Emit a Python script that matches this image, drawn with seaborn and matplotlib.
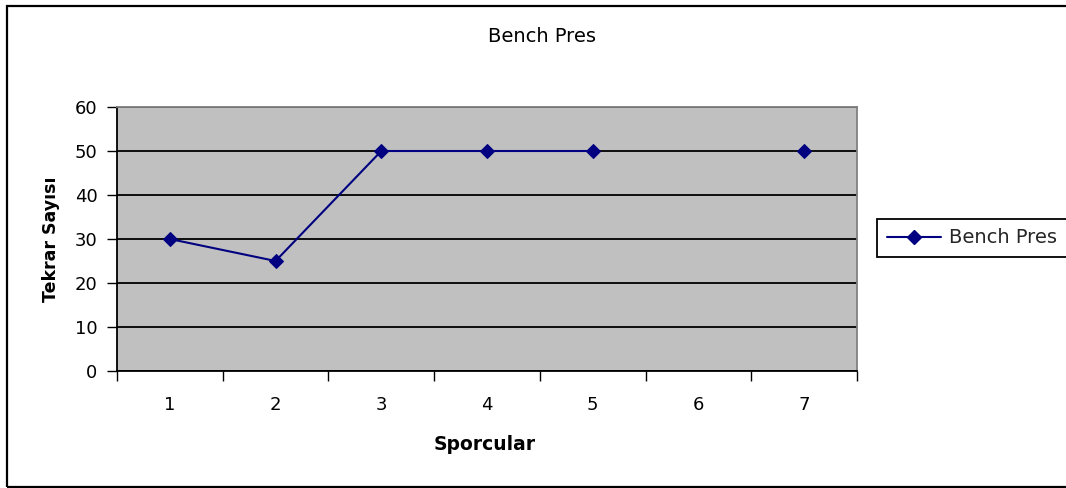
import numpy as np
import pandas as pd
import matplotlib
matplotlib.use("Agg")
import matplotlib.pyplot as plt
from matplotlib.patches import Rectangle
from matplotlib.lines import Line2D
import seaborn as sns

# Data
athletes = ["1", "2", "3", "4", "5", "6", "7"]
reps = [30, 25, 50, 50, 50, np.nan, 50]
series_name = "Bench Pres"
y_ticks = [0, 10, 20, 30, 40, 50, 60]

sns.set_theme(style="white")
plt.rcParams["font.family"] = ["DejaVu Sans"]

FS = 13
W, H = 1066, 488
fig = plt.figure(figsize=(W / 100, H / 100), dpi=100)
fig.patch.set_facecolor("white")

ax = fig.add_axes([117 / W, 1 - 371 / H, (857 - 117) / W, (371 - 107) / H])
ax.set_facecolor("#C0C0C0")

# Build frame; a missing value splits the line into separate runs
df = pd.DataFrame({"pos": np.arange(len(athletes)), "reps": reps})
df["run"] = df["reps"].isna().cumsum()
df = df.dropna()

navy = "#000080"
sns.lineplot(data=df, x="pos", y="reps", units="run", estimator=None,
             color=navy, lw=1.5, marker="D", markersize=7,
             markeredgecolor=navy, markerfacecolor=navy, ax=ax, legend=False)

# Axes limits and ticks
ax.set_xlim(-0.5, len(athletes) - 0.5)
ax.set_ylim(0, 60)
ax.set_yticks(y_ticks)
ax.set_yticklabels([str(v) for v in y_ticks], fontsize=FS, color="black")
ax.set_xticks(np.arange(-0.5, len(athletes), 1.0))
ax.set_xticklabels([])
ax.set_xticks(np.arange(len(athletes)), minor=True)
ax.set_xticklabels(athletes, minor=True, fontsize=FS, color="black")
ax.tick_params(axis="x", which="major", direction="out", length=7, width=1,
               color="black", bottom=True)
ax.tick_params(axis="x", which="minor", length=0, pad=18, bottom=True)
ax.tick_params(axis="y", direction="out", length=7, width=1, color="black",
               left=True, pad=7)

# Horizontal gridlines
ax.yaxis.grid(True, color="black", lw=1.3)
ax.xaxis.grid(False)
ax.set_axisbelow(True)

for side in ["top", "right"]:
    ax.spines[side].set_visible(True)
    ax.spines[side].set_color("#808080")
    ax.spines[side].set_linewidth(1.3)
for side in ["left", "bottom"]:
    ax.spines[side].set_visible(True)
    ax.spines[side].set_color("black")
    ax.spines[side].set_linewidth(1.3)

ax.set_xlabel("")
ax.set_ylabel("")
fig.text(485 / W, 1 - 445 / H, "Sporcular", ha="center", va="center",
         fontsize=13.5, fontweight="bold", color="black")
fig.text(51 / W, 1 - 239 / H, "Tekrar Sayısı", ha="center", va="center",
         rotation=90, fontsize=12.5, fontweight="bold", color="black")

fig.text(542 / W, 1 - 37 / H, series_name, ha="center", va="center",
         fontsize=14, color="black")

# Legend
handle = Line2D([], [], color=navy, lw=1.5, marker="D", markersize=7,
                markeredgecolor=navy, markerfacecolor=navy)
leg = fig.legend([handle], [series_name], loc="center left",
                 bbox_to_anchor=(877 / W, 1 - 238 / H), fontsize=14,
                 frameon=True, fancybox=False, framealpha=1,
                 edgecolor="black", handlelength=2.8, handletextpad=0.4,
                 borderpad=0.5, borderaxespad=0)
leg.get_frame().set_linewidth(1.3)

# Chart border
fig.patches.append(Rectangle((6.5 / W, 1 - 486.5 / H), 1.2, (486.5 - 5.5) / H,
                             transform=fig.transFigure, fill=False,
                             edgecolor="black", lw=1.6, clip_on=False))

fig.savefig("out.png", dpi=100)
